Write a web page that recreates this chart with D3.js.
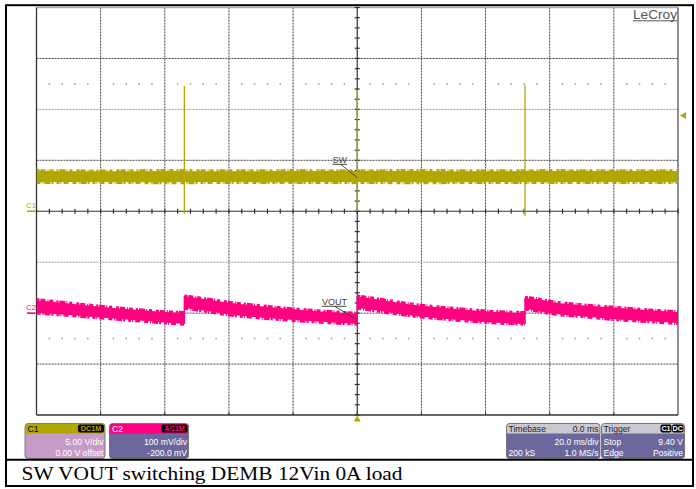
<!DOCTYPE html>
<html>
<head>
<meta charset="utf-8">
<script src="https://cdn.jsdelivr.net/npm/d3@7"></script>
<style>
  body { margin: 0; background: #fff; }
  svg { display: block; }
</style>
</head>
<body>
<svg id="scope" width="696" height="489"></svg>
<script>
// ---- acquisition settings ----
const timeRange = [-100, 100];          // ms, 20 ms/div, trigger at centre
const ch1VoltsPerDiv = 5;               // C1 (SW), V/div
const ch2MilliVoltsPerDiv = 100;        // C2 (VOUT), mV/div
const ch2OffsetMv = -200;               // C2 offset
const triggerLevelV = 9.40;             // trigger level on C1

// ---- C1: SW node (noise band, volts) ----
const swTime = [-100, -80, -60, -40, -20, 0, 20, 40, 60, 80, 100];
const swHigh = [3.95, 3.92, 3.96, 3.93, 3.95, 3.94, 3.96, 3.93, 3.95, 3.94, 3.95];
const swLow  = [2.85, 2.87, 2.84, 2.86, 2.85, 2.86, 2.84, 2.87, 2.85, 2.86, 2.85];
// switching bursts seen on SW
const swSpikeTime   = [-53.9, 0, 52.3];
const swSpikeTop    = [12.3, 11.9, 12.4];
const swSpikeBottom = [-0.25, 0.0, -0.45];

// ---- C2: VOUT ripple (noise band, mV, AC coupled) ----
const voutTime = [-100, -92, -80, -70, -60, -53.9,
                  -53.9, -50, -40, -30, -20, -10, 0,
                  0, 4, 10, 20, 30, 40, 52.3,
                  52.3, 56, 60, 70, 80, 90, 100];
const voutHigh = [25.5, 20.6, 12.7, 6.9, 2.0, 0.4,
                  32.9, 29.8, 20.6, 13.7, 7.8, 2.9, -1.0,
                  32.9, 29.4, 23.5, 14.7, 8.8, 3.5, 0.4,
                  29.8, 27.5, 22.5, 15.7, 10.8, 5.9, 2.0];
const voutLow  = [1.0, -2.9, -8.8, -13.7, -18.6, -21.2,
                  10.2, 6.9, -2.9, -8.8, -13.7, -17.6, -21.0,
                  10.2, 6.9, 1.0, -6.9, -12.7, -17.3, -21.2,
                  8.8, 4.9, 0.0, -5.9, -11.8, -15.7, -19.6];

// ---- readout boxes ----
const ch1Info = ["C1", "DC1M", "5.00 V/div", "0.00 V offset"];
const ch2Info = ["C2", "AC1M", "100 mV/div", "-200.0 mV"];
const timebaseRows = [["Timebase", "0.0 ms"], ["", "20.0 ms/div"], ["200 kS", "1.0 MS/s"]];
const triggerRows  = [["Trigger", ""], ["Stop", "9.40 V"], ["Edge", "Positive"]];
const triggerBadges = ["C1", "DC"];
const traceLabels = ["SW", "VOUT"];
const caption = "SW VOUT switching DEMB 12Vin 0A load";

// ---- colours ----
const C1_COLOR = "#b0a800";
const C2_COLOR = "#ff0080";
const BOX_PURPLE = "#6b679c";
const BOX_LILAC = "#c69bc8";
const SANS = "'Liberation Sans', Arial, sans-serif";

const svg = d3.select("#scope");
const plot = { left: 36.5, right: 678, top: 7.5, bottom: 415 };

// scales
const x = d3.scaleLinear().domain(timeRange).range([plot.left, plot.right]);
const y1 = d3.scaleLinear()
  .domain([-4 * ch1VoltsPerDiv, 4 * ch1VoltsPerDiv])
  .range([plot.bottom, plot.top]);
const ch2Centre = -ch2OffsetMv;
const y2 = d3.scaleLinear()
  .domain([ch2Centre - 4 * ch2MilliVoltsPerDiv, ch2Centre + 4 * ch2MilliVoltsPerDiv])
  .range([plot.bottom, plot.top]);
const gx = d3.scaleLinear().domain([-5, 5]).range([plot.left, plot.right]);
const gy = d3.scaleLinear().domain([-4, 4]).range([plot.bottom, plot.top]);
const cx = gx(0), cy = gy(0);

svg.append("rect").attr("x", 0).attr("y", 0).attr("width", 696).attr("height", 489).attr("fill", "#fff");

// ---- graticule ----
const grid = svg.append("g");
d3.range(-4, 5).filter(i => i !== 0).forEach(i => {
  grid.append("line")
    .attr("x1", gx(i)).attr("x2", gx(i)).attr("y1", plot.top).attr("y2", plot.bottom)
    .attr("stroke", "#444").attr("stroke-width", 1).attr("stroke-dasharray", "2 1");
});
d3.range(-3, 4).filter(j => j !== 0).forEach(j => {
  grid.append("line")
    .attr("x1", plot.left).attr("x2", plot.right).attr("y1", gy(j)).attr("y2", gy(j))
    .attr("stroke", j === -1 || j === 2 ? "#999" : "#444")
    .attr("stroke-width", 1).attr("stroke-dasharray", "2 1");
});
// dotted rows at +/- 2.5 div
[-2.5, 2.5].forEach(j => {
  d3.range(-25, 26).filter(k => k % 5 !== 0).forEach(k => {
    grid.append("rect")
      .attr("x", gx(k / 5) - 0.75).attr("y", gy(j) - 0.75)
      .attr("width", 1.5).attr("height", 1.5).attr("fill", "#999");
  });
});
// border
grid.append("line").attr("x1", plot.left).attr("x2", plot.right).attr("y1", plot.top).attr("y2", plot.top)
  .attr("stroke", "#aaa").attr("stroke-width", 1.6);
grid.append("line").attr("x1", plot.left).attr("x2", plot.left).attr("y1", plot.top).attr("y2", plot.bottom)
  .attr("stroke", "#333").attr("stroke-width", 1.3);
grid.append("line").attr("x1", plot.right).attr("x2", plot.right).attr("y1", plot.top).attr("y2", plot.bottom)
  .attr("stroke", "#555").attr("stroke-width", 1.3);
grid.append("line").attr("x1", plot.left).attr("x2", plot.right).attr("y1", plot.bottom).attr("y2", plot.bottom)
  .attr("stroke", "#333").attr("stroke-width", 1.3);
// centre axes with minor ticks
grid.append("line").attr("x1", plot.left).attr("x2", plot.right).attr("y1", cy).attr("y2", cy)
  .attr("stroke", "#333").attr("stroke-width", 1.2);
grid.append("line").attr("x1", cx).attr("x2", cx).attr("y1", plot.top).attr("y2", plot.bottom)
  .attr("stroke", "#333").attr("stroke-width", 1.2);
d3.range(-25, 26).forEach(k => {
  grid.append("line").attr("x1", gx(k / 5)).attr("x2", gx(k / 5)).attr("y1", cy - 2.5).attr("y2", cy + 2.5)
    .attr("stroke", "#333").attr("stroke-width", 1.2);
});
d3.range(-20, 21).forEach(k => {
  grid.append("line").attr("x1", cx - 2.5).attr("x2", cx + 2.5).attr("y1", gy(k / 5)).attr("y2", gy(k / 5))
    .attr("stroke", "#333").attr("stroke-width", 1.2);
});
d3.range(-4, 5).forEach(i => {
  grid.append("line").attr("x1", gx(i)).attr("x2", gx(i)).attr("y1", plot.bottom - 3).attr("y2", plot.bottom)
    .attr("stroke", "#333").attr("stroke-width", 1);
});

// ---- traces ----
svg.append("clipPath").attr("id", "plotClip").append("rect")
  .attr("x", plot.left).attr("y", plot.top)
  .attr("width", plot.right - plot.left).attr("height", plot.bottom - plot.top);
const traces = svg.append("g").attr("clip-path", "url(#plotClip)");

// split a series into continuous pieces at repeated time stamps
function segments(t, hi, lo) {
  const segs = [];
  let cur = [];
  t.forEach((tv, i) => {
    if (i > 0 && tv === t[i - 1]) { segs.push(cur); cur = []; }
    cur.push({ t: tv, hi: hi[i], lo: lo[i] });
  });
  segs.push(cur);
  return segs;
}

// filled noise envelope with a ragged rim along both edges
function drawBand(t, hi, lo, yScale, color) {
  const g = traces.append("g");
  const area = d3.area().x(d => x(d.t)).y0(d => yScale(d.lo)).y1(d => yScale(d.hi)).curve(d3.curveMonotoneX);
  const top = d3.line().x(d => x(d.t)).y(d => yScale(d.hi) - 0.6).curve(d3.curveMonotoneX);
  const bot = d3.line().x(d => x(d.t)).y(d => yScale(d.lo) + 0.6).curve(d3.curveMonotoneX);
  segments(t, hi, lo).forEach(s => {
    g.append("path").attr("d", area(s)).attr("fill", color);
    g.append("path").attr("d", top(s)).attr("fill", "none").attr("stroke", color)
      .attr("stroke-width", 2.6).attr("stroke-dasharray", "3 1 5 2 1 1 4 3 2 1 6 1 1 2 3 4");
    g.append("path").attr("d", bot(s)).attr("fill", "none").attr("stroke", color)
      .attr("stroke-width", 2.6).attr("stroke-dasharray", "4 2 1 1 6 1 2 3 3 1 1 2 5 4");
  });
  // vertical steps between pieces
  for (let i = 1; i < t.length; i++) {
    if (t[i] === t[i - 1]) {
      const vals = [hi[i - 1], lo[i - 1], hi[i], lo[i]];
      g.append("line").attr("x1", x(t[i])).attr("x2", x(t[i]))
        .attr("y1", yScale(d3.max(vals))).attr("y2", yScale(d3.min(vals)))
        .attr("stroke", color).attr("stroke-width", 1.5);
    }
  }
}

// C1 SW
drawBand(swTime, swHigh, swLow, y1, C1_COLOR);
swSpikeTime.forEach((t, i) => {
  traces.append("line")
    .attr("x1", x(t)).attr("x2", x(t))
    .attr("y1", y1(swSpikeTop[i])).attr("y2", y1(swSpikeBottom[i]))
    .attr("stroke", C1_COLOR).attr("stroke-width", 1.3);
});
// C2 VOUT
drawBand(voutTime, voutHigh, voutLow, y2, C2_COLOR);

// ---- markers ----
const mk = svg.append("g");
[[ch1Info[0], C1_COLOR, y1(0)], [ch2Info[0], C2_COLOR, y2(0)]].forEach(([lab, col, yy]) => {
  mk.append("line").attr("x1", 27).attr("x2", 35.5).attr("y1", yy).attr("y2", yy)
    .attr("stroke", col).attr("stroke-width", 1.6);
  mk.append("text").attr("x", 26).attr("y", yy - 3.5).text(lab)
    .attr("font-family", SANS).attr("font-size", 8).attr("fill", col);
});
const tl = y1(triggerLevelV);
mk.append("path").attr("d", `M680,${tl} L686,${tl - 3.5} L686,${tl + 3.5} Z`).attr("fill", C1_COLOR);
mk.append("path").attr("d", `M${cx},${plot.bottom + 0.5} L${cx - 3.5},${plot.bottom + 6.5} L${cx + 3.5},${plot.bottom + 6.5} Z`)
  .attr("fill", C1_COLOR);

function traceLabel(text, tx, ty, w, lx, ly, px, py) {
  mk.append("text").attr("x", tx).attr("y", ty).text(text)
    .attr("font-family", SANS).attr("font-size", 9).attr("fill", "#444");
  mk.append("line").attr("x1", tx).attr("x2", tx + w).attr("y1", ty + 1.8).attr("y2", ty + 1.8)
    .attr("stroke", "#444").attr("stroke-width", 1);
  mk.append("line").attr("x1", lx).attr("y1", ly).attr("x2", px).attr("y2", py)
    .attr("stroke", "#333").attr("stroke-width", 0.9);
}
traceLabel(traceLabels[0], 332.5, 162.5, 14.5, 341, 164.5, cx, y1((swHigh[5] + swLow[5]) / 2) + 1);
traceLabel(traceLabels[1], 322, 304.5, 24.5, 335, 306.5, cx, y2(voutLow[12]) - 4);

// LeCroy logo
svg.append("text").attr("x", 633).attr("y", 18.5).text("LeCroy")
  .attr("font-family", SANS).attr("font-size", 12.5).attr("fill", "#555")
  .attr("textLength", 44).attr("lengthAdjust", "spacingAndGlyphs");
svg.append("line").attr("x1", 633).attr("x2", 677).attr("y1", 20.8).attr("y2", 20.8)
  .attr("stroke", "#555").attr("stroke-width", 1);

// ---- readout boxes ----
const BOX_TOP = 423.5, BOX_H = 35, HEAD_H = 10;
function badge(g, bx, by, w, text, color) {
  g.append("rect").attr("x", bx).attr("y", by).attr("width", w).attr("height", 8)
    .attr("rx", 2).attr("fill", "#000");
  g.append("text").attr("x", bx + w / 2).attr("y", by + 6.8).text(text)
    .attr("text-anchor", "middle").attr("font-family", SANS).attr("font-weight", "bold")
    .attr("font-size", 7.2).attr("fill", color);
}
function boxFrame(bx, w, headColor, bodyColor) {
  const g = svg.append("g");
  g.append("rect").attr("x", bx).attr("y", BOX_TOP).attr("width", w).attr("height", BOX_H)
    .attr("rx", 3).attr("fill", bodyColor).attr("stroke", "#666").attr("stroke-width", 0.8);
  g.append("path")
    .attr("d", `M${bx + 0.5},${BOX_TOP + HEAD_H} V${BOX_TOP + 3} Q${bx + 0.5},${BOX_TOP + 0.5} ${bx + 3},${BOX_TOP + 0.5} H${bx + w - 3} Q${bx + w - 0.5},${BOX_TOP + 0.5} ${bx + w - 0.5},${BOX_TOP + 3} V${BOX_TOP + HEAD_H} Z`)
    .attr("fill", headColor);
  return g;
}
function txt(g, tx, ty, s, anchor, color) {
  g.append("text").attr("x", tx).attr("y", ty).text(s)
    .attr("text-anchor", anchor).attr("font-family", SANS).attr("font-size", 8.6).attr("fill", color);
}
[[ch1Info, 25, 80, C1_COLOR, BOX_LILAC, "#000"], [ch2Info, 109.5, 79, C2_COLOR, BOX_PURPLE, "#fff"]]
  .forEach(([info, bx, w, head, body, headText]) => {
    const g = boxFrame(bx, w, head, body);
    txt(g, bx + 2.5, BOX_TOP + 8, info[0], "start", headText);
    badge(g, bx + w - 27, BOX_TOP + 1, 26, info[1], head);
    txt(g, bx + w - 1.5, BOX_TOP + 21.5, info[2], "end", "#fff");
    txt(g, bx + w - 1.5, BOX_TOP + 32, info[3], "end", "#fff");
  });
[[timebaseRows, 506.5, 93.5, null], [triggerRows, 601.5, 83, triggerBadges]]
  .forEach(([rows, bx, w, badges]) => {
    const g = boxFrame(bx, w, "#c9c9cf", BOX_PURPLE);
    rows.forEach((r, i) => {
      const ty = BOX_TOP + [8.3, 21.5, 32][i];
      const col = i === 0 ? "#222" : "#fff";
      if (r[0]) txt(g, bx + 2, ty, r[0], "start", col);
      if (r[1]) txt(g, bx + w - 1.5, ty, r[1], "end", col);
    });
    if (badges) {
      badge(g, bx + w - 24, BOX_TOP + 1, 11, badges[0], "#fff");
      badge(g, bx + w - 12.5, BOX_TOP + 1, 11.5, badges[1], "#fff");
    }
  });

// ---- frame and caption ----
svg.append("rect").attr("x", 6).attr("y", 5.2).attr("width", 687).attr("height", 480.8)
  .attr("fill", "none").attr("stroke", "#000").attr("stroke-width", 2);
svg.append("line").attr("x1", 6).attr("x2", 693).attr("y1", 459.8).attr("y2", 459.8)
  .attr("stroke", "#000").attr("stroke-width", 2);
svg.append("text").attr("x", 21.5).attr("y", 479.5).text(caption)
  .attr("font-family", "'Liberation Serif', 'Times New Roman', serif").attr("font-size", 19.5)
  .attr("textLength", 381).attr("lengthAdjust", "spacingAndGlyphs").attr("fill", "#000");
</script>
</body>
</html>
